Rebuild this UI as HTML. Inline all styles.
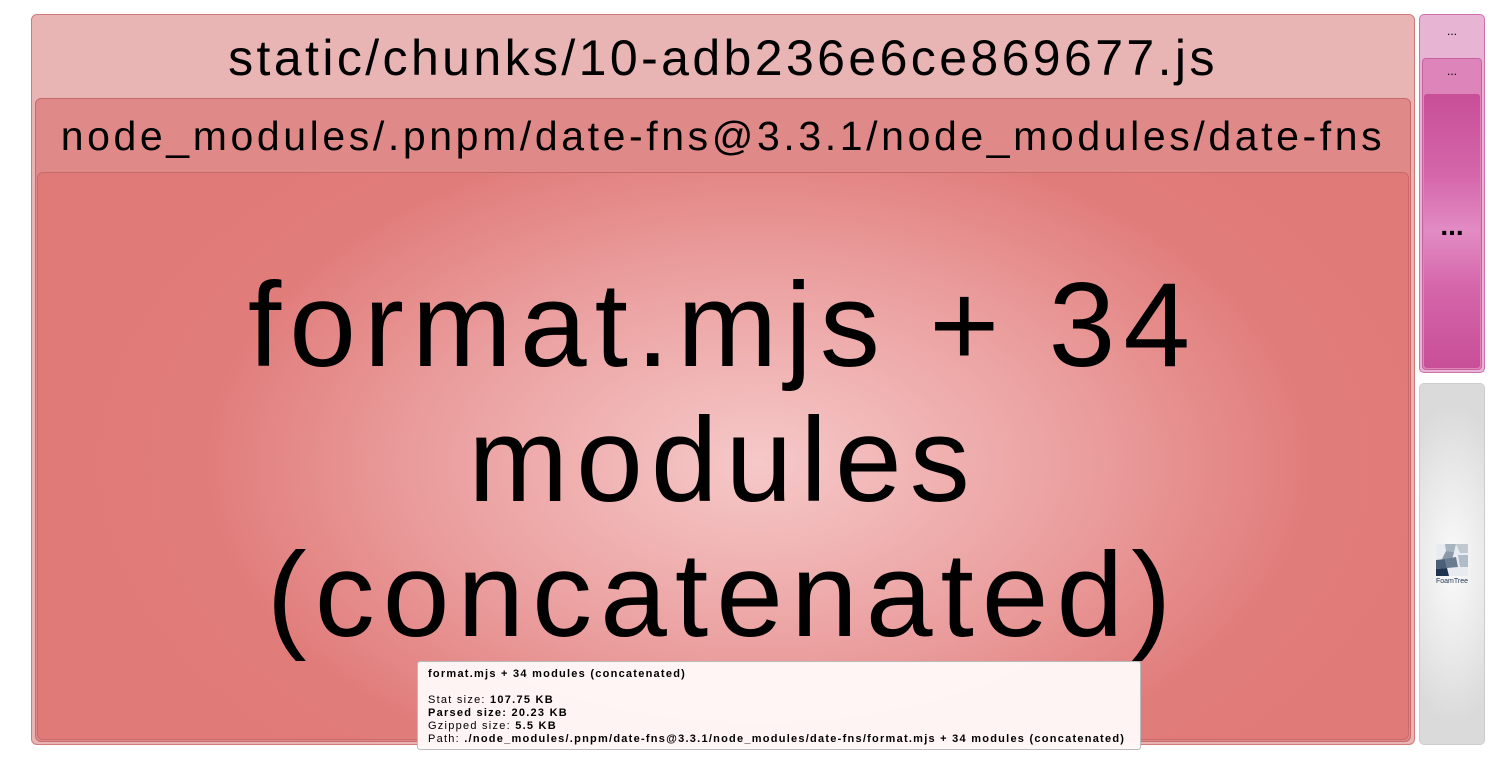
<!DOCTYPE html>
<html><head><style>
body{margin:0;width:1494px;height:763px;background:#fff;position:relative;overflow:hidden;font-family:"Liberation Sans",sans-serif}
div{box-sizing:border-box;position:absolute}
.t{left:0;right:0;text-align:center;color:#000;white-space:nowrap}
</style></head><body>
<div style="left:31px;top:14px;width:1384px;height:731px;background:#e8b4b4;border:1px solid #d07a7a;border-radius:6px"></div>
<div class="t" style="left:31px;width:1384px;top:28px;font-size:50px;line-height:60px;letter-spacing:3.4px">static/chunks/10-adb236e6ce869677.js</div>
<div style="left:35px;top:98px;width:1376px;height:644px;background:#df8a88;border:1px solid #c86a6a;border-radius:6px"></div>
<div class="t" style="left:35px;width:1376px;top:112px;font-size:41px;line-height:48px;letter-spacing:3.6px">node_modules/.pnpm/date-fns@3.3.1/node_modules/date-fns</div>
<div style="left:37px;top:172px;width:1372px;height:568px;border:1px solid #c86a6a;border-radius:6px;background:radial-gradient(ellipse 700px 420px at 720px 290px,#f6c8c8 0%,#eba0a0 45%,#e07c7a 80%,#e07a78 100%)"></div>
<div class="t" style="left:37px;width:1372px;top:258px;font-size:120px;line-height:135px;letter-spacing:8px">format.mjs + 34<br>modules<br>(concatenated)</div>
<div style="left:1419px;top:14px;width:66px;height:359px;background:#e8b4d4;border:1px solid #d070b0;border-radius:5px"></div>
<div class="t" style="left:1419px;width:66px;top:24px;font-size:12px">...</div>
<div style="left:1422px;top:58px;width:60px;height:312px;background:#dd84bb;border:1px solid #c860a0;border-radius:4px"></div>
<div class="t" style="left:1422px;width:60px;top:64px;font-size:12px">...</div>
<div style="left:1424px;top:94px;width:56px;height:274px;background:linear-gradient(#c84f98 0%,#d566aa 30%,#e28cc4 50%,#d566aa 70%,#c84f98 100%);border-radius:3px"></div>
<div class="t" style="left:1424px;width:56px;top:210px;font-size:28px;font-weight:bold">...</div>
<div style="left:1419px;top:383px;width:66px;height:362px;border:1px solid #ccc;border-radius:5px;background:radial-gradient(ellipse 60px 160px at 33px 180px,#fafafa 0%,#e8e8e8 60%,#dadada 100%)"></div>
<svg style="position:absolute;left:1434px;top:543px" width="36" height="42" viewBox="0 0 36 42">
<rect x="2" y="1" width="32" height="32" fill="#e8ecf0"/>
<polygon points="11,1 22,1 20,9 12,8" fill="#a8b4c0"/>
<polygon points="22,1 34,1 34,10 26,10" fill="#c0c8d0"/>
<polygon points="12,8 20,9 18,17 8,16" fill="#8a98a8"/>
<polygon points="2,17 11,16 13,25 2,26" fill="#4a6078"/>
<polygon points="11,16 22,14 24,24 13,25" fill="#6a7c90"/>
<polygon points="2,26 13,25 15,33 2,33" fill="#1e3450"/>
<polygon points="24,12 34,12 34,24 26,24" fill="#b0bcc8"/>
<text x="18" y="40" font-size="7" text-anchor="middle" fill="#1e3450" font-family="Liberation Sans">FoamTree</text>
</svg>
<div style="left:417px;top:661px;width:724px;height:89px;background:rgba(255,248,248,0.97);border:1px solid #bbb;border-radius:3px;padding:6px 10px;font-size:11px;line-height:13px;color:#000;letter-spacing:1.25px;white-space:nowrap">
<b>format.mjs + 34 modules (concatenated)</b><br><br>
Stat size: <b>107.75 KB</b><br>
<b>Parsed size: 20.23 KB</b><br>
Gzipped size: <b>5.5 KB</b><br>
Path: <b>./node_modules/.pnpm/date-fns@3.3.1/node_modules/date-fns/format.mjs + 34 modules (concatenated)</b>
</div>
</body></html>
